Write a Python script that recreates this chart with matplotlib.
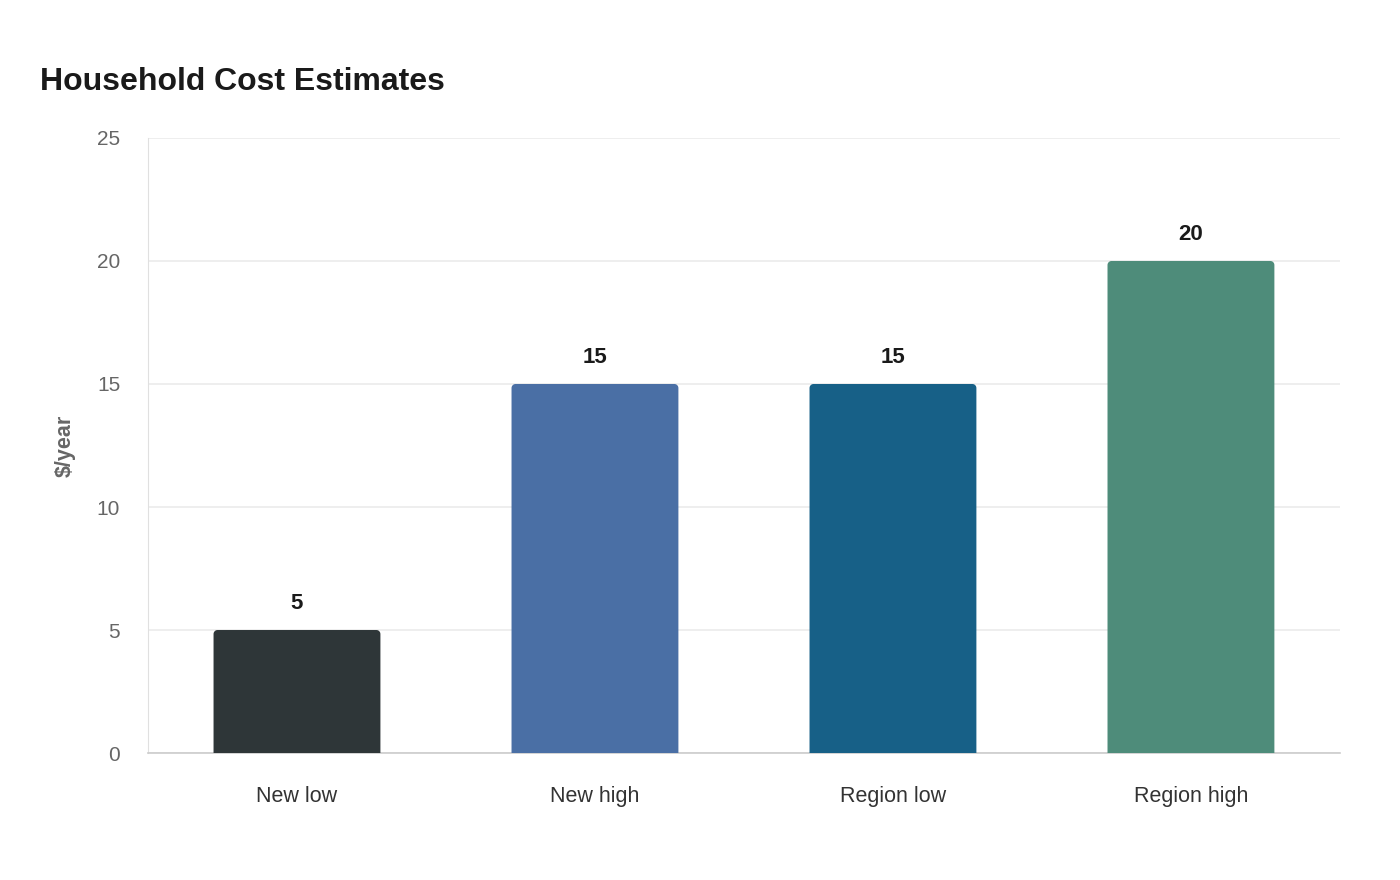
import matplotlib
matplotlib.use("Agg")
import matplotlib.pyplot as plt
from matplotlib.patches import PathPatch
from matplotlib.path import Path
import numpy as np

plt.rcParams['font.family'] = ['Liberation Sans', 'DejaVu Sans']

categories = ["New low", "New high", "Region low", "Region high"]
values = [5, 15, 15, 20]
colors = ["#2E3638", "#4A6FA5", "#176087", "#4E8C7A"]
y_ticks = [0, 5, 10, 15, 20, 25]

fig = plt.figure(figsize=(14, 8.8), dpi=100)
ax = fig.add_axes([0.1057, 0.1443, 0.8514, 0.6989])
ax.set_xlim(-0.5, len(categories) - 0.5)
ax.set_ylim(0, 25)

# pixel -> data scale for the rounded corners
ax_w_px = 0.8514 * 1400
ax_h_px = 0.6989 * 880
rx = 4 * len(categories) / ax_w_px
ry = 4 * 25 / ax_h_px
bar_w = 0.56


def rounded_top_bar(x, h, w, color):
    x0, x1 = x - w / 2, x + w / 2
    t = np.linspace(0, np.pi / 2, 8)
    verts = [(x0, 0), (x0, h - ry)]
    for a in t:
        verts.append((x0 + rx - rx * np.cos(a), h - ry + ry * np.sin(a)))
    for a in t[::-1]:
        verts.append((x1 - rx + rx * np.cos(a), h - ry + ry * np.sin(a)))
    verts.append((x1, 0))
    verts.append((x0, 0))
    codes = [Path.MOVETO] + [Path.LINETO] * (len(verts) - 2) + [Path.CLOSEPOLY]
    ax.add_patch(PathPatch(Path(verts, codes), facecolor=color, edgecolor="none", zorder=3))


for i, (v, c) in enumerate(zip(values, colors)):
    rounded_top_bar(i, v, bar_w, c)
    ax.annotate(str(v), (i, v), xytext=(0, 15), textcoords="offset points",
                ha="center", va="baseline", fontsize=16, fontweight="bold",
                color="#1a1a1a")

ax.set_xticks(range(len(categories)))
ax.set_xticklabels(categories)
ax.set_yticks(y_ticks)
ax.tick_params(axis="x", length=0, pad=24, labelsize=15.5, labelcolor="#333333")
ax.tick_params(axis="y", length=0, pad=20, labelsize=15, labelcolor="#666666")

ax.grid(axis="y", color="#ebebeb", linewidth=1.2, zorder=0)
ax.set_axisbelow(True)
for s in ["top", "right"]:
    ax.spines[s].set_visible(False)
ax.spines["left"].set_color("#e0e0e0")
ax.spines["bottom"].set_color("#cccccc")
ax.spines["bottom"].set_linewidth(1.2)

ax.set_ylabel("\\$/year", fontsize=15.5, fontweight="bold", color="#666666", labelpad=15)

fig.text(0.0286, 0.898, "Household Cost Estimates", fontsize=23, fontweight="bold",
         color="#1a1a1a", ha="left", va="baseline")

fig.savefig("out.png", dpi=100, facecolor="white")
